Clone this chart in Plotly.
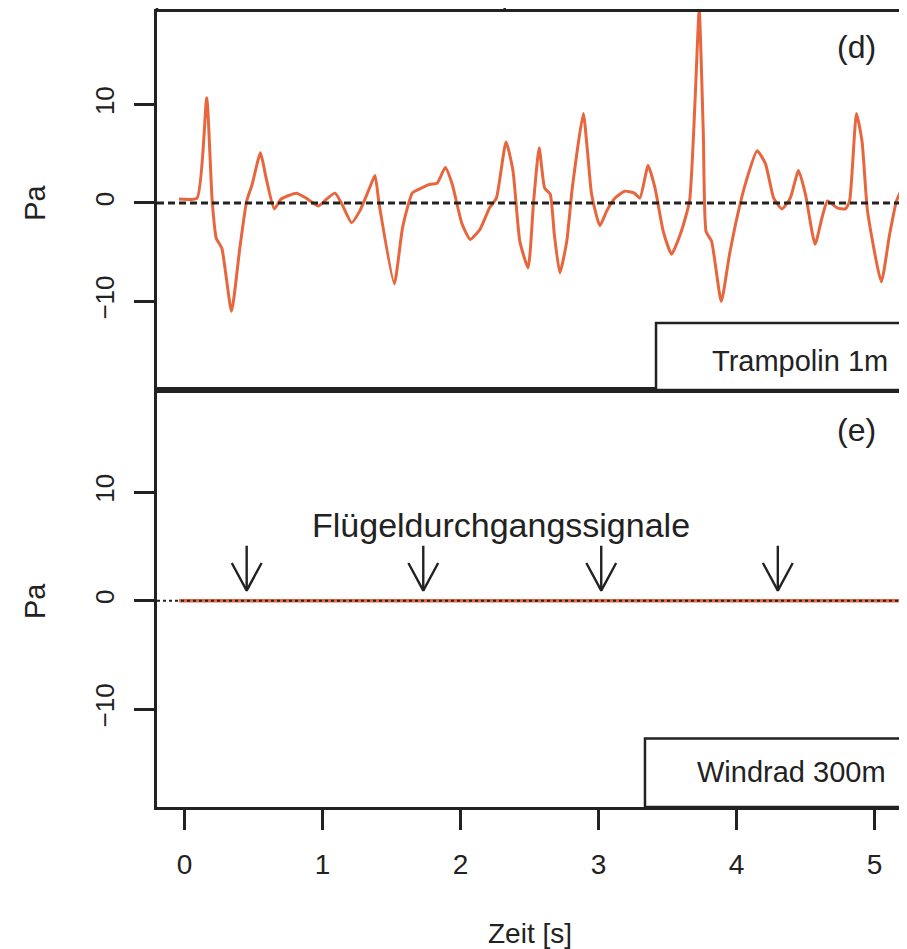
import plotly.graph_objects as go
from plotly.subplots import make_subplots

# ---- data ----
t_tramp = [-0.04, 0.09, 0.16, 0.20, 0.23, 0.27, 0.34, 0.40, 0.45, 0.49, 0.55, 0.59, 0.65, 0.70,
           0.81, 0.88, 0.97, 1.03, 1.09, 1.14, 1.21, 1.27, 1.34, 1.38, 1.41, 1.52, 1.58, 1.65,
           1.70, 1.78, 1.83, 1.89, 1.94, 2.01, 2.07, 2.14, 2.21, 2.26, 2.33, 2.38, 2.43, 2.49,
           2.53, 2.57, 2.61, 2.65, 2.68, 2.72, 2.77, 2.81, 2.89, 2.92, 2.95, 3.01, 3.06, 3.12,
           3.19, 3.26, 3.30, 3.36, 3.41, 3.47, 3.53, 3.60, 3.66, 3.70, 3.73, 3.76, 3.78, 3.82,
           3.89, 3.95, 4.01, 4.07, 4.15, 4.21, 4.27, 4.33, 4.39, 4.45, 4.50, 4.57, 4.62, 4.66,
           4.73, 4.79, 4.82, 4.87, 4.91, 4.95, 5.05, 5.11, 5.16, 5.20]
p_tramp = [0.4, 0.5, 10.7, 0.2, -3.6, -4.6, -11.0, -4.6, 0.2, 1.9, 5.1, 2.6, -0.6, 0.4,
           1.0, 0.5, -0.3, 0.4, 1.0, -0.1, -2.0, -0.8, 1.5, 2.8, -0.1, -8.2, -2.5, 1.0,
           1.4, 1.9, 2.0, 3.6, 1.9, -2.1, -3.7, -2.7, -0.5, 0.5, 6.2, 3.3, -3.9, -6.6,
           0.2, 5.6, 1.5, 0.9, -3.2, -7.1, -3.9, 1.5, 9.1, 5.3, 0.9, -2.3, -0.8, 0.5,
           1.2, 1.0, 0.5, 3.8, 1.5, -2.9, -5.2, -2.9, 0.2, 10.4, 19.6, 7.0, -2.9, -3.9,
           -10.0, -5.2, -1.1, 2.2, 5.3, 4.0, 0.5, -0.6, 0.5, 3.3, 0.9, -4.2, -1.5, 0.2,
           -0.5, -0.6, 0.2, 9.1, 6.3, -0.8, -8.0, -3.2, 0.2, 1.5]

t_wind = [-0.04, 5.20]
p_wind = [0.0, 0.0]

arrow_t = [0.45, 1.73, 3.02, 4.30]
arrow_tip = 0.92
arrow_tail = 5.06

x_ticks = [0, 1, 2, 3, 4, 5]
y_ticks = [-10, 0, 10]
x_range = [-0.2, 5.2]
y_range = [-19.0, 19.4]

ORANGE = "#E8663D"
INK = "#222222"
FONT = "Liberation Sans, Arial, Helvetica, sans-serif"

# arrowhead size (style): half width in x units, height in y units
HEAD_HW = 0.108
HEAD_H = 2.55

split = 0.5245
fig = make_subplots(rows=2, cols=1, shared_xaxes=True, vertical_spacing=0)

fig.add_trace(go.Scatter(x=t_tramp, y=p_tramp, mode="lines",
                         line=dict(color=ORANGE, width=3, shape="spline", smoothing=0.5),
                         hoverinfo="skip", showlegend=False), row=1, col=1)
fig.add_trace(go.Scatter(x=[x_range[0], x_range[1]], y=[0, 0], mode="lines",
                         line=dict(color=INK, width=2.8, dash="7px,4px"),
                         hoverinfo="skip", showlegend=False), row=1, col=1)

fig.add_trace(go.Scatter(x=t_wind, y=p_wind, mode="lines",
                         line=dict(color=ORANGE, width=3.6),
                         hoverinfo="skip", showlegend=False), row=2, col=1)
fig.add_trace(go.Scatter(x=[x_range[0], x_range[1]], y=[0, 0], mode="lines",
                         line=dict(color=INK, width=2.0, dash="3px,3px"),
                         hoverinfo="skip", showlegend=False), row=2, col=1)

# arrows (shaft + open V head) built from the arrow positions
ax_pts, ay_pts = [], []
for at in arrow_t:
    ax_pts += [at, at, None, at - HEAD_HW, at, at + HEAD_HW, None]
    ay_pts += [arrow_tail, arrow_tip, None, arrow_tip + HEAD_H, arrow_tip, arrow_tip + HEAD_H, None]
fig.add_trace(go.Scatter(x=ax_pts, y=ay_pts, mode="lines", connectgaps=False,
                         line=dict(color=INK, width=2.4),
                         hoverinfo="skip", showlegend=False), row=2, col=1)

axis_common = dict(showline=True, mirror=True, linecolor=INK, linewidth=2.5,
                   showgrid=False, zeroline=False, automargin=False)

fig.update_xaxes(range=x_range, tickvals=x_ticks, **axis_common)
fig.update_xaxes(ticks="", showticklabels=False, row=1, col=1)
fig.update_xaxes(ticks="outside", ticklen=20, tickwidth=2.5, tickcolor=INK,
                 ticklabelstandoff=11,
                 tickfont=dict(family=FONT, size=28, color=INK), row=2, col=1)
fig.update_yaxes(range=y_range, tickvals=y_ticks, ticks="outside", ticklen=20,
                 tickwidth=2.5, tickcolor=INK, tickangle=-90, ticklabelstandoff=10,
                 tickfont=dict(family=FONT, size=26, color=INK), **axis_common)

fig.layout.yaxis.domain = [split, 1]
fig.layout.yaxis2.domain = [0, split]

ann = []
# panel letters
ann.append(dict(x=4.87, y=15.8, xref="x", yref="y", text="(d)", showarrow=False,
                xanchor="center", yanchor="middle",
                font=dict(family=FONT, size=32, color=INK)))
ann.append(dict(x=4.87, y=15.7, xref="x2", yref="y2", text="(e)", showarrow=False,
                xanchor="center", yanchor="middle",
                font=dict(family=FONT, size=32, color=INK)))
# legend labels
ann.append(dict(x=5.11, y=-16.1, xref="x", yref="y", text="Trampolin 1m", showarrow=False,
                xanchor="right", yanchor="middle", font=dict(family=FONT, size=29, color=INK)))
ann.append(dict(x=5.10, y=-15.8, xref="x2", yref="y2", text="Windrad 300m", showarrow=False,
                xanchor="right", yanchor="middle", font=dict(family=FONT, size=29, color=INK)))
# signal label
ann.append(dict(x=2.29, y=7.0, xref="x2", yref="y2", text="Flügeldurchgangssignale",
                showarrow=False, xanchor="center", yanchor="middle",
                font=dict(family=FONT, size=34, color=INK)))
# axis titles
for yp in [0.760, 0.259]:
    ann.append(dict(x=-0.1638, y=yp, xref="paper", yref="paper", text="Pa", textangle=-90,
                    showarrow=False, xanchor="center", yanchor="middle",
                    font=dict(family=FONT, size=29, color=INK)))
ann.append(dict(x=0.5007, y=-0.1585, xref="paper", yref="paper", text="Zeit [s]",
                showarrow=False, xanchor="center", yanchor="middle",
                font=dict(family=FONT, size=28, color=INK)))

shapes = []
# legend boxes
shapes.append(dict(type="rect", xref="x", yref="y", x0=3.417, x1=x_range[1], y0=y_range[0],
                   y1=-12.2, line=dict(color=INK, width=2.5), fillcolor="white", layer="above"))
shapes.append(dict(type="rect", xref="x2", yref="y2", x0=3.337, x1=x_range[1], y0=y_range[0],
                   y1=-12.7, line=dict(color=INK, width=2.5), fillcolor="white", layer="above"))
# edges of the panel above (cut off)
top_ext = 1 + 12 / 795
for xp in [0.0, 1.0]:
    shapes.append(dict(type="line", xref="paper", yref="paper", x0=xp, x1=xp, y0=1, y1=top_ext,
                       line=dict(color=INK, width=2.5)))
shapes.append(dict(type="line", xref="x", yref="paper", x0=2.32, x1=2.32, y0=1, y1=top_ext,
                   line=dict(color=INK, width=2.5)))

# page body adds an 8px offset; size/margins compensate so the plot lands where it should
fig.update_layout(width=899, height=941, margin=dict(l=149, r=5, t=4, b=142),
                  plot_bgcolor="white", paper_bgcolor="white", annotations=ann, shapes=shapes,
                  showlegend=False)

fig.write_html("out.html")
